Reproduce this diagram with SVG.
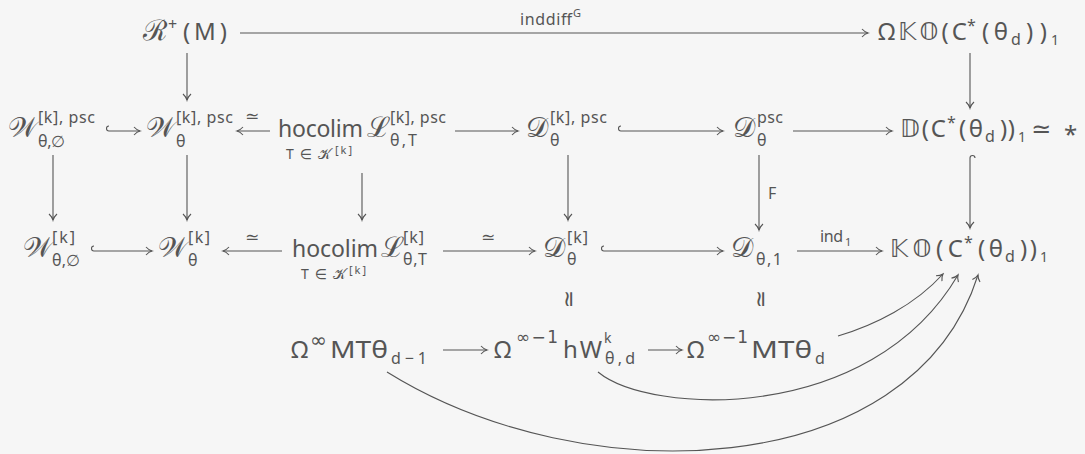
<svg xmlns="http://www.w3.org/2000/svg" width="1085" height="454" viewBox="0 0 1085 454">
<defs>
<style>
text{font-family:"Noto Sans","DejaVu Sans","DejaVu Serif",sans-serif;fill:#555}
.m{font-size:24px}
.h{font-size:23px}
.k{font-size:28px}
.s{font-size:16px}
.s2{font-size:17px;font-family:"DejaVu Sans",sans-serif}
.t{font-size:14px}
.x{font-size:11px}
.l{font-size:16px}
.c path,.c line{stroke:#555;stroke-width:1.1;fill:none}
.eq{font-size:17px;text-anchor:middle}
.rq{font-size:22px;text-anchor:middle}
</style>
<marker id="ah" markerWidth="10" markerHeight="10" refX="0" refY="0" viewBox="-8 -5 10 10" orient="auto" markerUnits="userSpaceOnUse">
<path d="M-6,-4 C-4,-1.8 -1.5,-0.4 0,0 C-1.5,0.4 -4,1.8 -6,4" fill="none" stroke="#555" stroke-width="1.1"/>
</marker>
</defs>
<rect width="1085" height="454" fill="#f6f6f6"/>
<g id="connectors" class="c">
<line x1="240" y1="33" x2="868" y2="33" marker-end="url(#ah)"/>
<line x1="187" y1="53" x2="187" y2="100" marker-end="url(#ah)"/>
<line x1="970" y1="53" x2="970" y2="108" marker-end="url(#ah)"/>
<path d="M109,126 A2.5,2.5 0 0 0 109,131 H140" marker-end="url(#ah)"/>
<line x1="270" y1="131" x2="237" y2="131" marker-end="url(#ah)"/>
<line x1="455" y1="131" x2="518" y2="131" marker-end="url(#ah)"/>
<path d="M621,126 A2.5,2.5 0 0 0 621,131 H723" marker-end="url(#ah)"/>
<line x1="793" y1="131" x2="892" y2="131" marker-end="url(#ah)"/>
<line x1="53" y1="155" x2="53" y2="220" marker-end="url(#ah)"/>
<line x1="187" y1="155" x2="187" y2="220" marker-end="url(#ah)"/>
<line x1="362" y1="173" x2="362" y2="220" marker-end="url(#ah)"/>
<line x1="568" y1="155" x2="568" y2="220" marker-end="url(#ah)"/>
<line x1="759" y1="155" x2="759" y2="230" marker-end="url(#ah)"/>
<path d="M975,158 A2.5,2.5 0 0 0 970,158 V228" marker-end="url(#ah)"/>
<path d="M94,246 A2.5,2.5 0 0 0 94,251 H152" marker-end="url(#ah)"/>
<line x1="282" y1="251" x2="223" y2="251" marker-end="url(#ah)"/>
<line x1="443" y1="251" x2="535" y2="251" marker-end="url(#ah)"/>
<path d="M604,246 A2.5,2.5 0 0 0 604,251 H723" marker-end="url(#ah)"/>
<line x1="797" y1="251" x2="882" y2="251" marker-end="url(#ah)"/>
<line x1="443" y1="350" x2="487" y2="350" marker-end="url(#ah)"/>
<line x1="648" y1="350" x2="682" y2="350" marker-end="url(#ah)"/>
<path d="M838,336 C875,325 915,305 943,274" marker-end="url(#ah)"/>
<path d="M598,372 C650,415 870,425 958,275" marker-end="url(#ah)"/>
<path d="M387,372 C583,494 912,484 978,275" marker-end="url(#ah)"/>
<text class="l" x="520" y="25" textLength="52">inddiff</text>
<text class="x" x="573" y="17">G</text>
<text class="eq" x="252" y="122">≃</text>
<text class="eq" x="252" y="243">≃</text>
<text class="eq" x="488" y="243">≃</text>
<text class="l" x="768" y="199">F</text>
<text class="l" x="820" y="242" textLength="23">ind</text>
<text class="x" x="845" y="246">1</text>
<text class="rq" dominant-baseline="central" transform="translate(567,299) rotate(-90)">≃</text>
<text class="rq" dominant-baseline="central" transform="translate(759,299) rotate(-90)">≃</text>
</g>
<g id="n-RM">
<text class="k" x="143" y="40">ℛ</text>
<text class="s" x="168" y="30">+</text>
<text class="m" x="183" y="40" textLength="44">(M)</text>
</g>
<g id="n-OKO">
<text class="m" x="878" y="40" textLength="89">Ω𝕂𝕆(C</text>
<text class="s" x="967" y="31">*</text>
<text class="m" x="982" y="40" textLength="26">(θ</text>
<text class="s" x="1011" y="45">d</text>
<text class="m" x="1026" y="40" textLength="21">))</text>
<text class="t" x="1051" y="45">1</text>
</g>
<g id="n-Wpsc0">
<text class="k" x="8" y="137">𝒲</text>
<text class="s" x="38" y="123" textLength="57">[k], psc</text>
<text class="s" x="38" y="147" textLength="27">θ,∅</text>
</g>
<g id="n-Wpsc">
<text class="k" x="146" y="137">𝒲</text>
<text class="s" x="176" y="123" textLength="57">[k], psc</text>
<text class="s" x="176" y="147">θ</text>
</g>
<g id="n-hocolim-psc">
<text class="h" x="278" y="137" textLength="85">hocolim</text>
<text class="t" x="286" y="159" textLength="45">T∈𝒦</text>
<text class="x" x="335" y="154" textLength="17">[k]</text>
<text class="k" x="367" y="137">ℒ</text>
<text class="s" x="390" y="123" textLength="56">[k], psc</text>
<text class="s" x="390" y="146" textLength="27">θ,T</text>
</g>
<g id="n-Dkpsc">
<text class="k" x="526" y="137">𝒟</text>
<text class="s" x="550" y="123" textLength="57">[k], psc</text>
<text class="s" x="550" y="146">θ</text>
</g>
<g id="n-Dpsc">
<text class="k" x="733" y="137">𝒟</text>
<text class="s" x="757" y="123" textLength="26">psc</text>
<text class="s" x="757" y="146">θ</text>
</g>
<g id="n-DD">
<text class="m" x="900" y="137" textLength="46">𝔻(C</text>
<text class="s" x="947" y="128">*</text>
<text class="m" x="959" y="137" textLength="24">(θ</text>
<text class="s" x="985" y="142">d</text>
<text class="m" x="1000" y="137" textLength="15">))</text>
<text class="t" x="1018" y="142">1</text>
<text class="m" x="1031" y="137">≃</text>
<text class="m" x="1064" y="143">*</text>
</g>
<g id="n-W0">
<text class="k" x="23" y="257">𝒲</text>
<text class="s" x="52" y="243" textLength="23">[k]</text>
<text class="s" x="52" y="266" textLength="28">θ,∅</text>
</g>
<g id="n-W">
<text class="k" x="158" y="257">𝒲</text>
<text class="s" x="188" y="243" textLength="22">[k]</text>
<text class="s" x="188" y="266">θ</text>
</g>
<g id="n-hocolim">
<text class="h" x="292" y="257" textLength="86">hocolim</text>
<text class="t" x="301" y="279" textLength="45">T∈𝒦</text>
<text class="x" x="349" y="274" textLength="17">[k]</text>
<text class="k" x="381" y="257">ℒ</text>
<text class="s" x="403" y="243" textLength="21">[k]</text>
<text class="s" x="403" y="265" textLength="24">θ,T</text>
</g>
<g id="n-Dk">
<text class="k" x="543" y="257">𝒟</text>
<text class="s" x="567" y="243" textLength="21">[k]</text>
<text class="s" x="567" y="265">θ</text>
</g>
<g id="n-D1">
<text class="k" x="731" y="257">𝒟</text>
<text class="s" x="756" y="265" textLength="26">θ,1</text>
</g>
<g id="n-KO">
<text class="m" x="890" y="257" textLength="73">𝕂𝕆(C</text>
<text class="s" x="964" y="248">*</text>
<text class="m" x="978" y="257" textLength="25">(θ</text>
<text class="s" x="1005" y="262">d</text>
<text class="m" x="1020" y="257" textLength="17">))</text>
<text class="t" x="1040" y="262">1</text>
</g>
<g id="n-MTd1">
<text class="m" x="291" y="358">Ω</text>
<text class="s2" x="310" y="347" style="font-size:20px">∞</text>
<text class="m" x="330" y="358" textLength="58" lengthAdjust="spacingAndGlyphs">MTθ</text>
<text class="s" x="391" y="364" textLength="36">d−1</text>
</g>
<g id="n-hW">
<text class="m" x="494" y="358">Ω</text>
<text class="s2" x="516" y="343" textLength="42">∞−1</text>
<text class="m" x="563" y="358" textLength="39">hW</text>
<text class="t" x="604" y="343">k</text>
<text class="s" x="605" y="364" textLength="30">θ,d</text>
</g>
<g id="n-MTd">
<text class="m" x="687" y="358">Ω</text>
<text class="s2" x="707" y="343" textLength="41">∞−1</text>
<text class="m" x="751" y="358" textLength="61" lengthAdjust="spacingAndGlyphs">MTθ</text>
<text class="s" x="815" y="364">d</text>
</g>
</svg>
